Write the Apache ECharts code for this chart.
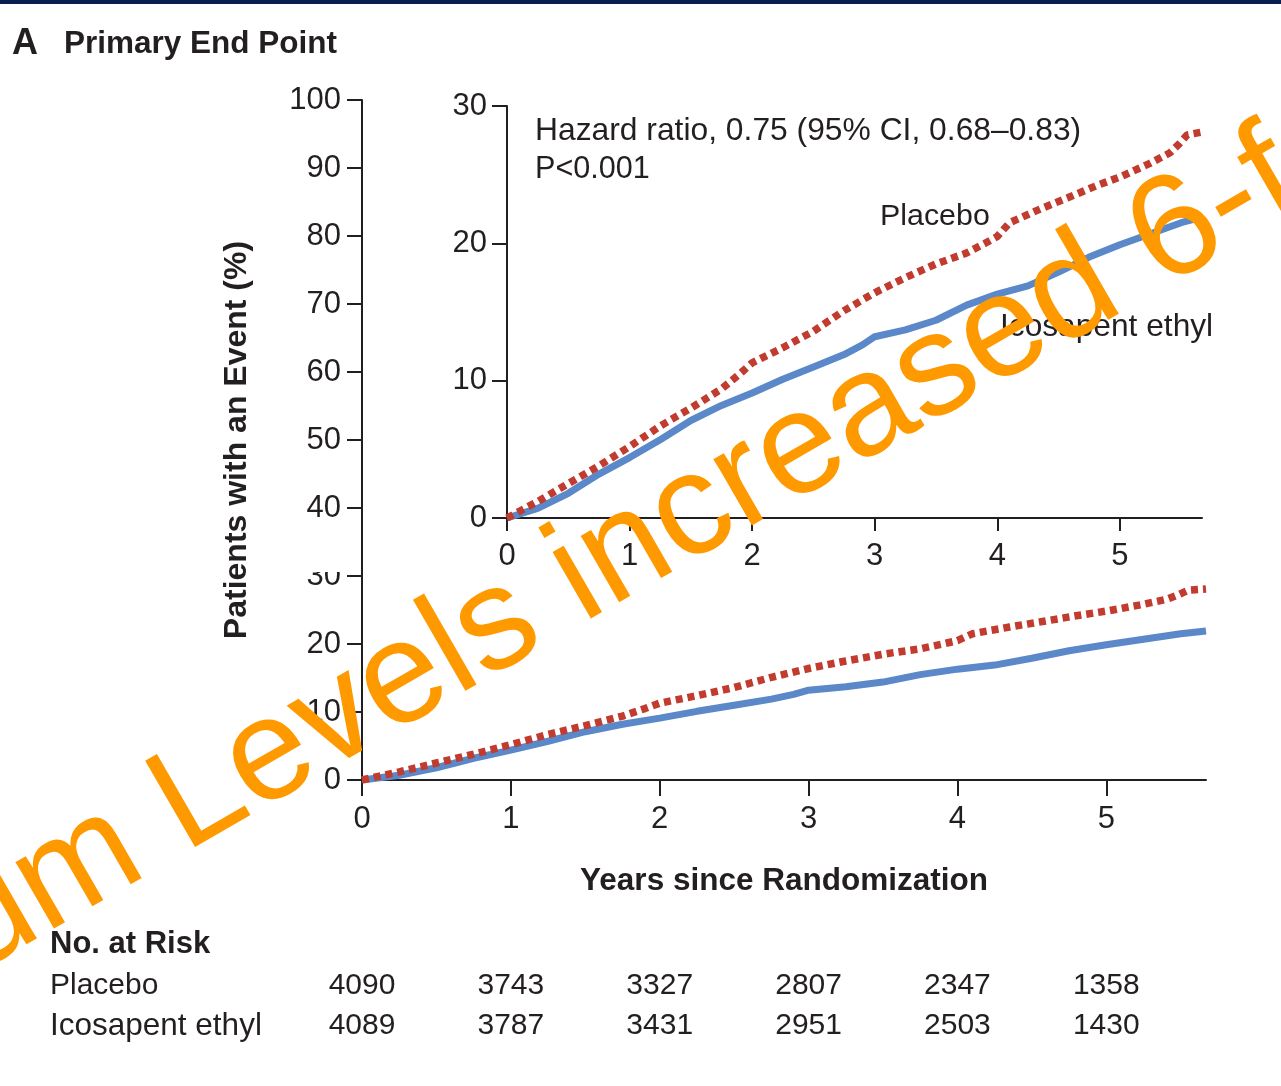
<!DOCTYPE html>
<html>
<head>
<meta charset="utf-8">
<script src="https://cdn.jsdelivr.net/npm/echarts@6/dist/echarts.min.js"></script>
<style>
html,body{margin:0;padding:0;background:#fff;}
#c{width:1281px;height:1086px;}
</style>
</head>
<body>
<div id="c"></div>
<script>
// ---- data ----
const xTicks = [0, 1, 2, 3, 4, 5];
const xMax = 5.67;
const placeboYears = [0,0.25,0.5,0.75,1,1.25,1.5,1.75,1.9,2,2.25,2.5,2.75,3,3.25,3.5,3.75,3.9,4,4.1,4.35,4.57,4.81,5.02,5.24,5.41,5.49,5.55,5.67];
const placeboPct   = [0,1.2,2.5,3.8,5.2,6.7,8.0,9.4,10.5,11.3,12.4,13.6,15.1,16.4,17.5,18.5,19.3,20.0,20.5,21.5,22.5,23.3,24.2,24.9,25.8,26.6,27.3,27.9,28.1];
const icosaYears = [0,0.25,0.5,0.75,1,1.25,1.5,1.75,2,2.25,2.5,2.75,2.9,3,3.25,3.5,3.75,4,4.25,4.5,4.75,5,5.25,5.5,5.67];
const icosaPct   = [0,0.7,1.8,3.2,4.4,5.7,7.1,8.2,9.1,10.1,11.0,11.9,12.6,13.2,13.7,14.4,15.5,16.3,16.9,17.9,19.0,19.9,20.7,21.5,21.9];
const riskYears = [0, 1, 2, 3, 4, 5];
const riskPlacebo = [4090, 3743, 3327, 2807, 2347, 1358];
const riskIcosa   = [4089, 3787, 3431, 2951, 2503, 1430];
const seriesNames = ['Placebo', 'Icosapent ethyl'];

// ---- styles ----
const ink = '#231f20';
const FF = '"Liberation Sans", Arial, sans-serif';
const blue = '#5a88c8';
const red = '#c13b2e';

function pairs(xs, ys){ return xs.map((x,i)=>[x, ys[i]]); }

function xAxisCfg(gi, margin, tickLen){
  return {
    type:'value', gridIndex:gi, min:0, max:xMax, interval:1,
    axisLine:{show:true, onZero:false, lineStyle:{color:ink, width:2}},
    axisTick:{show:true, length:tickLen, customValues:xTicks, lineStyle:{color:ink, width:2}},
    axisLabel:{customValues:xTicks, margin:margin, fontSize:31, color:ink, fontFamily:FF},
    splitLine:{show:false}
  };
}
function yAxisCfg(gi, max, margin, tickLen){
  return {
    type:'value', gridIndex:gi, min:0, max:max, interval:10,
    axisLine:{show:true, lineStyle:{color:ink, width:2}},
    axisTick:{show:true, length:tickLen, lineStyle:{color:ink, width:2}},
    axisLabel:{margin:margin, fontSize:31, color:ink, fontFamily:FF},
    splitLine:{show:false}
  };
}
function blueSeries(xi){
  return {type:'line', name:seriesNames[1], xAxisIndex:xi, yAxisIndex:xi, data:pairs(icosaYears, icosaPct),
    showSymbol:false, symbol:'none', lineStyle:{color:blue, width:7}, z:3, silent:true};
}
function redSeries(xi){
  return {type:'line', name:seriesNames[0], xAxisIndex:xi, yAxisIndex:xi, data:pairs(placeboYears, placeboPct),
    showSymbol:false, symbol:'none', lineStyle:{color:red, width:7.5, type:[7,5], cap:'butt'}, z:4, silent:true};
}

const chart = echarts.init(document.getElementById('c'), null, {renderer:'canvas'});
chart.setOption({
  backgroundColor:'#ffffff',
  animation:false,
  grid:[
    {left:362, top:100, width:844, height:680, outerBoundsMode:'none'},
    {left:507, top:106, width:695, height:412, outerBoundsMode:'none'}
  ],
  xAxis:[ xAxisCfg(0, 24, 16), xAxisCfg(1, 23, 13) ],
  yAxis:[ yAxisCfg(0, 100, 21, 15), yAxisCfg(1, 30, 20, 15) ],
  series:[ blueSeries(0), redSeries(0), blueSeries(1), redSeries(1) ]
});

const g = [];
function txt(x, y, s, opt){
  opt = opt || {};
  g.push({type:'text', x:x, y:y, z:opt.z||50, rotation:opt.rotation||0,
    style:{text:s, fill:opt.fill||ink, font:(opt.weight||'normal')+' '+(opt.size||31)+'px '+FF,
      align:opt.align||'left', verticalAlign:opt.va||'middle'}});
}
// top navy band
g.push({type:'rect', shape:{x:0, y:0, width:1281, height:4}, style:{fill:'#0b1e52'}, z:60});
// small white patch of the inset frame over the main "30" label
g.push({type:'rect', shape:{x:298, y:556, width:50, height:16}, style:{fill:'#ffffff'}, z:60});
// titles
txt(12, 44, 'A', {weight:'bold', size:36});
txt(64, 44, 'Primary End Point', {weight:'bold', size:31.5});
txt(237, 440, 'Patients with an Event (%)', {weight:'bold', size:32, align:'center', rotation:Math.PI/2});
txt(784, 881, 'Years since Randomization', {weight:'bold', size:31.5, align:'center'});
// inset annotations
txt(535, 131, 'Hazard ratio, 0.75 (95% CI, 0.68\u20130.83)', {size:31.8});
txt(535, 170, 'P<0.001', {size:30.6});
txt(880, 217, seriesNames[0], {size:30.4});
txt(1000, 327, seriesNames[1], {size:31.7});
// at-risk table
txt(50, 944, 'No. at Risk', {weight:'bold', size:31});
txt(50, 986, seriesNames[0], {size:30});
txt(50, 1026, seriesNames[1], {size:31.5});
riskYears.forEach((t,i)=>{
  const px = chart.convertToPixel({xAxisIndex:0}, t);
  txt(px, 986, String(riskPlacebo[i]), {size:30, align:'center'});
  txt(px, 1026, String(riskIcosa[i]), {size:30, align:'center'});
});
// watermark
const wmAng = Math.PI/6;
g.push({type:'text', x:-240, y:1052, rotation:wmAng, z:100,
  style:{text:'Serum Levels increased 6-fold', fill:'#ff9900', font:'normal 145px '+FF, align:'left', verticalAlign:'middle'}});

chart.setOption({graphic:{elements:g}});
</script>
</body>
</html>
